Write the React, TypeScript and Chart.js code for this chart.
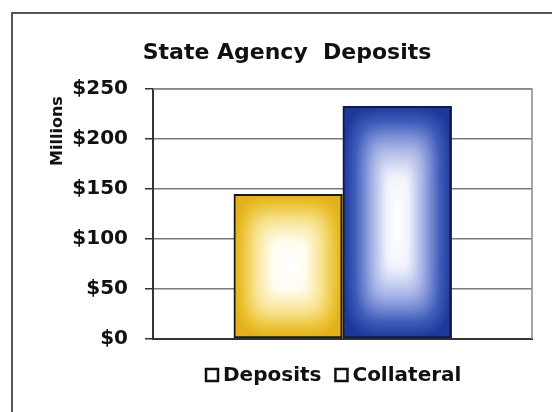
import React, { useEffect, useRef } from "react";
import { Chart, registerables } from "chart.js";

Chart.register(...registerables);

const categories = ["State Agency Deposits"];
const seriesLabels = ["Deposits", "Collateral"];
const depositsValues = [145];
const collateralValues = [233];
const tickValues = [0, 50, 100, 150, 200, 250];
const titleText = "State Agency  Deposits";
const axisTitle = "Millions";

const FONT = "'DejaVu Sans', 'Liberation Sans', Arial, sans-serif";

type Stop = [number, [number, number, number]];
const yellowStops: Stop[] = [
  [0, [255, 255, 255]],
  [0.3, [255, 253, 240]],
  [0.62, [247, 226, 140]],
  [0.88, [234, 190, 44]],
  [1, [226, 176, 28]],
];
const blueStops: Stop[] = [
  [0, [255, 255, 255]],
  [0.2, [240, 243, 252]],
  [0.48, [160, 174, 228]],
  [0.78, [62, 92, 186]],
  [1, [28, 56, 152]],
];

function lerpStops(stops: Stop[], t: number): [number, number, number] {
  if (t <= stops[0][0]) return stops[0][1];
  for (let i = 1; i < stops.length; i++) {
    if (t <= stops[i][0]) {
      const [t0, c0] = stops[i - 1];
      const [t1, c1] = stops[i];
      const f = (t - t0) / (t1 - t0);
      return [
        c0[0] + (c1[0] - c0[0]) * f,
        c0[1] + (c1[1] - c0[1]) * f,
        c0[2] + (c1[2] - c0[2]) * f,
      ];
    }
  }
  return stops[stops.length - 1][1];
}

function drawRectGradient(
  ctx: CanvasRenderingContext2D,
  x: number,
  y: number,
  w: number,
  h: number,
  stops: Stop[],
  vertStretch: number
) {
  const W = Math.max(1, Math.round(w));
  const H = Math.max(1, Math.round(h));
  const img = ctx.createImageData(W, H);
  const hw = W / 2;
  const hh = H / 2;
  const p = 4;
  for (let j = 0; j < H; j++) {
    const dy = Math.pow(Math.abs(j + 0.5 - hh) / hh, vertStretch);
    for (let i = 0; i < W; i++) {
      const dx = Math.abs(i + 0.5 - hw) / hw;
      const t = Math.min(1, Math.pow(Math.pow(dx, p) + Math.pow(dy, p), 1 / p));
      const c = lerpStops(stops, t);
      const k = (j * W + i) * 4;
      img.data[k] = c[0];
      img.data[k + 1] = c[1];
      img.data[k + 2] = c[2];
      img.data[k + 3] = 255;
    }
  }
  ctx.putImageData(img, Math.round(x), Math.round(y));
}

const gradientPlugin = {
  id: "rectGradient",
  beforeDatasetsDraw(chart: any) {
    const ctx = chart.ctx;
    chart.data.datasets.forEach((ds: any, di: number) => {
      const meta = chart.getDatasetMeta(di);
      meta.data.forEach((el: any) => {
        const { x, y, base, width } = el.getProps(["x", "y", "base", "width"], true);
        const left = x - width / 2;
        const top = Math.min(y, base);
        const h = Math.abs(base - y);
        drawRectGradient(ctx, left, top, width, h, di === 0 ? yellowStops : blueStops, di === 0 ? 1.1 : 1.7);
      });
    });
  },
};

const decorPlugin = {
  id: "decor",
  beforeDraw(chart: any) {
    const ctx = chart.ctx;
    ctx.save();
    ctx.fillStyle = "#ffffff";
    ctx.fillRect(0, 0, chart.width, chart.height);
    ctx.strokeStyle = "#555555";
    ctx.lineWidth = 2;
    ctx.beginPath();
    ctx.moveTo(12, chart.height + 2);
    ctx.lineTo(12, 13);
    ctx.lineTo(chart.width + 2, 13);
    ctx.stroke();
    ctx.restore();
  },
  beforeDatasetsDraw(chart: any) {
    const { ctx, chartArea } = chart;
    ctx.save();
    ctx.strokeStyle = "#8a8a8a";
    ctx.lineWidth = 1.5;
    ctx.beginPath();
    ctx.moveTo(chartArea.left, chartArea.top);
    ctx.lineTo(chartArea.right, chartArea.top);
    ctx.lineTo(chartArea.right, chartArea.bottom);
    ctx.stroke();
    ctx.restore();
  },
  afterDraw(chart: any) {
    const { ctx, chartArea } = chart;
    ctx.save();
    // title
    ctx.fillStyle = "#111111";
    ctx.font = `bold 22px ${FONT}`;
    ctx.textAlign = "center";
    ctx.textBaseline = "middle";
    ctx.fillText(titleText, 287, 53);
    // axis title
    ctx.save();
    ctx.translate(58, chartArea.top + 42);
    ctx.rotate(-Math.PI / 2);
    ctx.font = `bold 16px ${FONT}`;
    ctx.fillText(axisTitle, 0, 0);
    ctx.restore();
    // legend
    ctx.font = `bold 20px ${FONT}`;
    ctx.textAlign = "left";
    ctx.textBaseline = "middle";
    let lx = 206;
    const ly = chartArea.bottom + 36;
    chart.data.datasets.forEach((ds: any) => {
      ctx.fillStyle = "#ffffff";
      ctx.fillRect(lx, ly - 6, 12, 12);
      ctx.strokeStyle = "#111111";
      ctx.lineWidth = 2.5;
      ctx.strokeRect(lx, ly - 6, 12, 12);
      ctx.fillStyle = "#111111";
      ctx.fillText(ds.label, lx + 17, ly + 1);
      lx += 17 + ctx.measureText(ds.label).width + 14;
    });
    ctx.restore();
  },
};

export default function App() {
  const ref = useRef<HTMLCanvasElement | null>(null);
  useEffect(() => {
    if (!ref.current) return;
    const chart = new Chart(ref.current, {
      type: "bar",
      data: {
        labels: categories,
        datasets: [
          {
            label: seriesLabels[0],
            data: depositsValues,
            backgroundColor: "rgba(0,0,0,0)",
            borderColor: "#1a1a1a",
            borderWidth: 2,
            borderSkipped: false,
          },
          {
            label: seriesLabels[1],
            data: collateralValues,
            backgroundColor: "rgba(0,0,0,0)",
            borderColor: "#0d1a4a",
            borderWidth: 2,
            borderSkipped: false,
          },
        ],
      },
      options: {
        animation: false,
        responsive: false,
        maintainAspectRatio: false,
        devicePixelRatio: 1,
        categoryPercentage: 0.575,
        barPercentage: 1,
        layout: { padding: { top: 89, right: 20, bottom: 73, left: 0 } },
        plugins: {
          legend: { display: false },
          title: { display: false },
          tooltip: { enabled: false },
        },
        scales: {
          x: {
            ticks: { display: false },
            grid: { display: false, drawTicks: false },
            border: { display: true, color: "#333333", width: 2 },
            afterFit: (s: any) => {
              s.height = 0;
            },
          },
          y: {
            min: 0,
            max: 250,
            afterBuildTicks: (s: any) => {
              s.ticks = tickValues.map((v) => ({ value: v }));
            },
            ticks: {
              stepSize: 50,
              padding: 17,
              color: "#111111",
              font: { family: FONT, size: 20, weight: "bold" },
              callback: (v: any) => "$" + v,
            },
            grid: {
              color: "#7a7a7a",
              lineWidth: 1.5,
              drawTicks: true,
              tickLength: 8,
              tickColor: "#333333",
            },
            border: { display: true, color: "#333333", width: 2 },
            afterFit: (s: any) => {
              s.width = 153;
            },
          },
        },
      },
      plugins: [decorPlugin, gradientPlugin],
    } as any);
    return () => chart.destroy();
  }, []);
  return (
    <div style={{ position: "fixed", left: 0, top: 0, width: 552, height: 412, background: "#fff" }}>
      <canvas ref={ref} width={552} height={412} style={{ width: 552, height: 412, display: "block" }} />
    </div>
  );
}
